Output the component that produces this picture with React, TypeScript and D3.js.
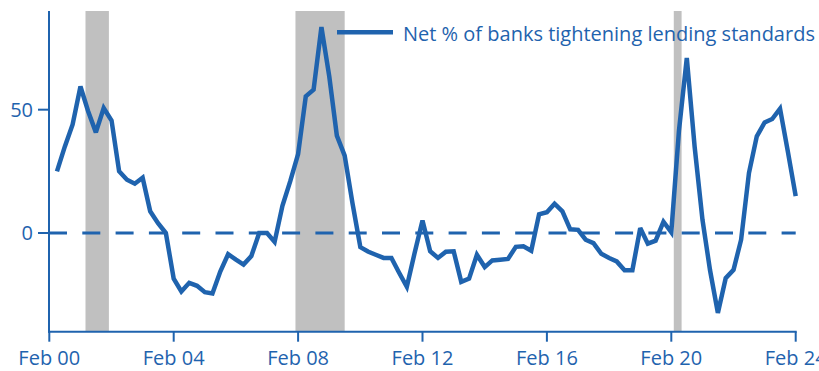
import React from "react";
import * as d3 from "d3";

// Quarterly survey dates (first survey May 2000, last Feb 2024)
const START_DATE = "2000-05-01";
const netTightening: number[] = [
  25, 35, 44, 59.4, 49.5, 40.8, 50.7, 45.6, 25, 21.6,
  20, 22.4, 8.8, 4, 0, -18.5, -23.7, -20.2, -21.4, -24,
  -24.5, -15.6, -8.6, -10.8, -12.8, -9.3, 0, 0, -3.6, 11,
  21, 32, 55.4, 58.1, 83.5, 63.5, 39.5, 31.4, 12, -5.7,
  -7.5, -8.8, -10.1, -10.1, -16, -21.8, -8, 5.1, -7.4, -10.1,
  -7.6, -7.4, -19.8, -18.5, -8.8, -13.8, -11.1, -10.8, -10.5, -5.6,
  -5.4, -7.2, 7.6, 8.4, 11.9, 8.8, 1.5, 1.3, -2.7, -4.1,
  -8.4, -10.1, -11.5, -15.1, -15.1, 2, -4.3, -3.1, 4.6, 0.3,
  41.5, 71, 35, 5.4, -15.1, -32.4, -18.3, -14.9, -2.7, 24.3,
  39.2, 44.8, 46.2, 50.4, 33, 15,
];

const recessions: [string, string][] = [
  ["2001-04-01", "2002-01-01"],
  ["2008-01-01", "2009-08-01"],
  ["2020-03-01", "2020-06-01"],
];

const xTickLabels = ["Feb 00", "Feb 04", "Feb 08", "Feb 12", "Feb 16", "Feb 20", "Feb 24"];
const xTickDates = ["2000-02-01", "2004-02-01", "2008-02-01", "2012-02-01", "2016-02-01", "2020-02-01", "2024-02-01"];
const yTicks = [0, 50];
const legendLabel = "Net % of banks tightening lending standards";

const BLUE = "#1f63ae";
const FONT = "'Open Sans', sans-serif";

export default function App() {
  const width = 819;
  const height = 371;
  const parse = d3.utcParse("%Y-%m-%d");
  const start = parse(START_DATE)!;
  const data = netTightening.map((v, i) => ({ date: d3.utcMonth.offset(start, 3 * i), value: v }));

  const x = d3
    .scaleUtc()
    .domain([parse("2000-02-01")!, parse("2024-02-01")!])
    .range([49.3, 795.7]);
  const y = d3.scaleLinear().domain([-40, 90]).range([331.7, 11]);

  const line = d3
    .line<{ date: Date; value: number }>()
    .x((d) => x(d.date))
    .y((d) => y(d.value));

  const axisY = 331.7;
  const axisX = 49;

  return (
    <svg
      width={width}
      height={height}
      style={{ position: "absolute", left: 0, top: 0, background: "#fff" }}
      fontFamily={FONT}
    >
      {recessions.map(([a, b], i) => (
        <rect
          key={i}
          x={x(parse(a)!)}
          y={y(90)}
          width={x(parse(b)!) - x(parse(a)!)}
          height={axisY - y(90)}
          fill="#c0c0c0"
        />
      ))}

      {/* zero line */}
      <line
        x1={axisX}
        x2={795.7}
        y1={y(0)}
        y2={y(0)}
        stroke={BLUE}
        strokeWidth={2.8}
        strokeDasharray="18,15.3"
      />

      {/* axes */}
      <line x1={axisX} x2={axisX} y1={y(90)} y2={axisY + 1} stroke={BLUE} strokeWidth={2} />
      <line x1={axisX - 1} x2={796.7} y1={axisY} y2={axisY} stroke={BLUE} strokeWidth={2} />
      {yTicks.map((t) => (
        <g key={t}>
          <line x1={38} x2={axisX} y1={y(t)} y2={y(t)} stroke={BLUE} strokeWidth={2} />
          <text x={33} y={y(t) + 7.3} textAnchor="end" fontSize={20} fill={BLUE}>
            {t}
          </text>
        </g>
      ))}
      {xTickDates.map((d, i) => {
        const xp = x(parse(d)!);
        return (
          <g key={d}>
            <line x1={xp} x2={xp} y1={axisY} y2={axisY + 10} stroke={BLUE} strokeWidth={2} />
            <text x={xp} y={365} textAnchor="middle" fontSize={20} fill={BLUE}>
              {xTickLabels[i]}
            </text>
          </g>
        );
      })}

      {/* series */}
      <path
        d={line(data) || ""}
        fill="none"
        stroke={BLUE}
        strokeWidth={4.5}
        strokeLinejoin="miter"
        strokeMiterlimit={3}
      />

      {/* legend */}
      <line x1={337} x2={393} y1={32.3} y2={32.3} stroke={BLUE} strokeWidth={4.5} />
      <text x={403} y={40.5} fontSize={20} fill={BLUE}>
        {legendLabel}
      </text>
    </svg>
  );
}
